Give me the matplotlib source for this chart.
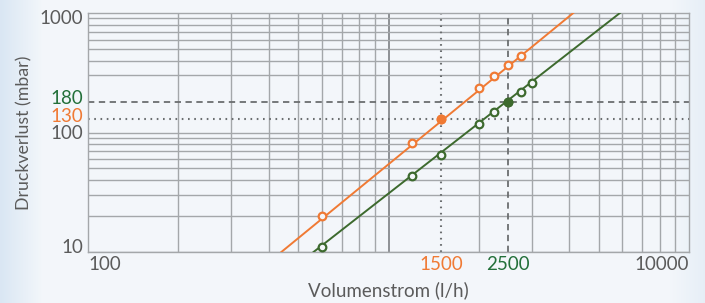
import numpy as np
import matplotlib
matplotlib.use('Agg')
import matplotlib.pyplot as plt
import matplotlib.transforms as mtransforms

plt.rcParams['font.family'] = ['Lato', 'DejaVu Sans']

# values (flow in l/h, pressure drop in mbar)
orange_flow = [600, 1200, 1500, 2000, 2250, 2500, 2750]
orange_dp = [20, 81, 130, 234, 299, 367, 440]
orange_line_flow = [440, 4120]
orange_line_dp = [10, 1000]

green_flow = [600, 1200, 1500, 2000, 2250, 2500, 2750, 3000]
green_dp = [11, 43, 65, 117, 149, 180, 219, 258]
green_line_flow = [563, 5890]
green_line_dp = [10, 1000]

orange_mark = (1500, 130)
green_mark = (2500, 180)

ytick_vals = [10, 100, 130, 180, 1000]
ytick_labels = ['10', '100', '130', '180', '1000']
xtick_vals = [100, 1500, 2500, 10000]
xtick_labels = ['100', '1500', '2500', '10000']

ORANGE = '#f07a34'
GREEN_LINE = '#3d6a2e'
GREEN_TXT = '#23703a'
GRID = '#a4a7aa'
TXT = '#5b5b5b'

fig = plt.figure(figsize=(7.05, 3.03), dpi=100)
fig.patch.set_facecolor('#eef3f8')

# soft blue background gradient
bg = fig.add_axes([0, 0, 1, 1], zorder=-10)
xx = np.linspace(0, 1, 300)
left = np.clip(1 - xx / 0.06, 0, 1)
right = np.clip((xx - 0.95) / 0.05, 0, 1) * 0.5
shade = np.maximum(left, right)
c0 = np.array([0.955, 0.968, 0.982])
c1 = np.array([0.855, 0.905, 0.955])
img = c0[None, None, :] * (1 - shade[None, :, None]) + c1[None, None, :] * shade[None, :, None]
bg.imshow(img, aspect='auto', extent=[0, 1, 0, 1])
bg.set_axis_off()

ax = fig.add_axes([88 / 705, 51 / 303, 601 / 705, 239 / 303])
ax.set_facecolor('none')
ax.set_xscale('log')
ax.set_yscale('log')
ax.set_xlim(100, 10000)
ax.set_ylim(10, 1000)

# grid
for dec in [100, 1000]:
    for k in range(2, 10):
        ax.axvline(dec * k, color=GRID, lw=1.0, zorder=1)
ax.axvline(1000, color='#7d8084', lw=1.2, zorder=1)
for dec in [10, 100]:
    for k in range(1, 10):
        if dec * k == 200:
            continue
        ax.axhline(dec * k, color=GRID, lw=1.0, zorder=1)

for s in ax.spines.values():
    s.set_color(GRID)
    s.set_linewidth(1.0)

# reference lines
ax.axhline(green_mark[1], color='#6b6e70', lw=1.3, ls=(0, (3.5, 2.5)), zorder=2)
ax.axvline(green_mark[0], color='#6b6e70', lw=1.3, ls=(0, (3.5, 2.5)), zorder=2)
ax.axhline(orange_mark[1], color='#6b6e70', lw=1.5, ls=(0, (0.8, 2.2)), zorder=2)
ax.axvline(orange_mark[0], color='#6b6e70', lw=1.5, ls=(0, (0.8, 2.2)), zorder=2)

# curves
ax.plot(orange_line_flow, orange_line_dp, color=ORANGE, lw=1.4, zorder=3)
ax.plot(green_line_flow, green_line_dp, color=GREEN_LINE, lw=1.4, zorder=3)
ax.plot(orange_flow, orange_dp, 'o', ms=5.5, mfc='#f4f7fa', mec=ORANGE, mew=1.6, zorder=4)
ax.plot(green_flow, green_dp, 'o', ms=5.5, mfc='#f4f7fa', mec=GREEN_LINE, mew=1.6, zorder=4)
ax.plot(*orange_mark, 'o', ms=6, color=ORANGE, zorder=5)
ax.plot(*green_mark, 'o', ms=6, color=GREEN_LINE, zorder=5)

# x ticks
ax.tick_params(which='both', length=0)
ax.set_xticks(xtick_vals, minor=False)
ax.set_xticks([], minor=True)
ax.set_xticklabels(xtick_labels, fontsize=13.5, color=TXT)
ax.tick_params(axis='x', pad=3)
xl = ax.get_xticklabels()
xl[0].set_ha('left')
xl[1].set_color(ORANGE)
xl[2].set_color(GREEN_TXT)
xl[3].set_ha('right')

# y ticks as text, nudged like the reference
ax.set_yticks([], minor=False)
ax.set_yticks([], minor=True)
ycolors = [TXT, TXT, ORANGE, GREEN_TXT, TXT]
ynudge = [4.5, -1.2, 2.0, 3.0, -6.0]  # pixels, positive = up
base = mtransforms.blended_transform_factory(ax.transAxes, ax.transData)
for v, lab, c, dy in zip(ytick_vals, ytick_labels, ycolors, ynudge):
    tr = base + mtransforms.ScaledTranslation(-5 / 100, dy / 100, fig.dpi_scale_trans)
    ax.text(0, v, lab, transform=tr, ha='right', va='center', fontsize=13.5,
            color=c, clip_on=False)

ax.set_xlabel('Volumenstrom (l/h)', fontsize=13.5, color=TXT, labelpad=6)
ax.set_ylabel('Druckverlust (mbar)', fontsize=12.8, color=TXT, labelpad=40)

fig.savefig('out.png', dpi=100, facecolor=fig.get_facecolor())
